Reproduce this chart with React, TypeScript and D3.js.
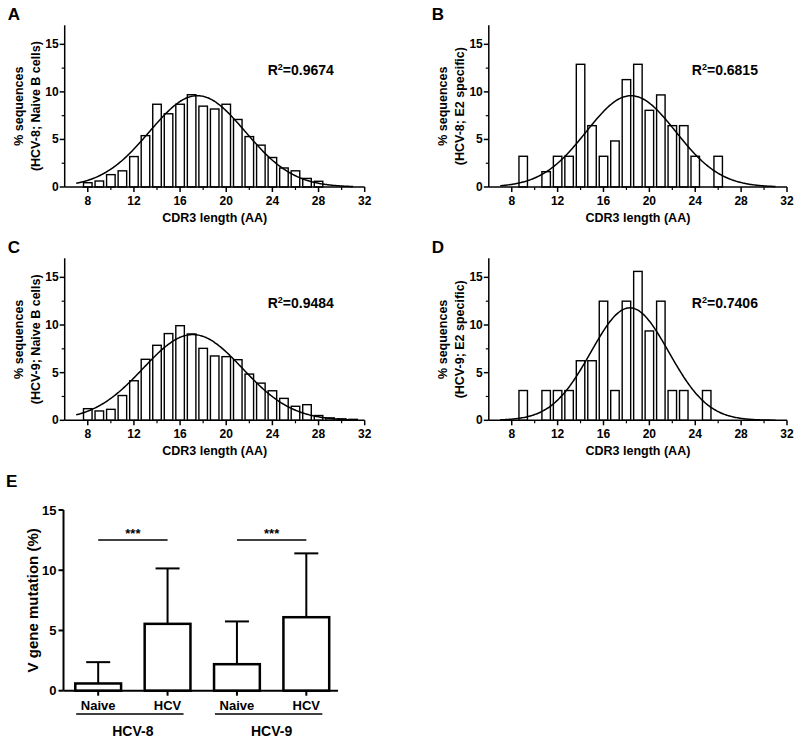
import React from "react";
import * as d3 from "d3";

// ---------- Data ----------
const lengthsA = [8, 9, 10, 11, 12, 13, 14, 15, 16, 17, 18, 19, 20, 21, 22, 23, 24, 25, 26, 27, 28];
const valuesA = [0.45, 0.63, 1.3, 1.7, 3.2, 5.4, 8.7, 7.7, 8.7, 9.7, 8.5, 8.2, 8.7, 7.1, 5.3, 4.4, 3.1, 2.0, 1.7, 0.9, 0.6];

const lengthsB = [9, 11, 12, 13, 14, 15, 16, 17, 18, 19, 20, 21, 22, 23, 24, 26];
const valuesB = [3.23, 1.61, 3.23, 3.23, 12.9, 6.45, 3.23, 4.84, 11.29, 12.9, 8.06, 9.68, 6.45, 6.45, 3.23, 3.23];

const lengthsC = [8, 9, 10, 11, 12, 13, 14, 15, 16, 17, 18, 19, 20, 21, 22, 23, 24, 25, 26, 27, 28, 29, 30, 31];
const valuesC = [1.22, 0.98, 1.15, 2.6, 4.15, 6.4, 7.87, 9.1, 9.93, 9.06, 7.55, 6.75, 6.68, 6.36, 4.85, 3.9, 3.1, 2.3, 1.47, 1.64, 0.5, 0.25, 0.15, 0.1];

const lengthsD = [9, 11, 12, 13, 14, 15, 16, 17, 18, 19, 20, 21, 22, 23, 25];
const valuesD = [3.125, 3.125, 3.125, 3.125, 6.25, 6.25, 12.5, 3.125, 12.5, 15.625, 9.375, 12.5, 3.125, 3.125, 3.125];

// Gaussian fit parameters per panel (A, B, C, D)
const fitPeak = [9.6, 9.6, 9.0, 11.8];
const fitMean = [17.5, 18.4, 17.1, 18.3];
const fitSd = [4.15, 3.9, 4.3, 3.4];
const fitRange = [7, 31];
const r2Labels = ["0.9674", "0.6815", "0.9484", "0.7406"];
const panelLetters = ["A", "B", "C", "D"];
const yLabelLine2 = ["(HCV-8; Naive B cells)", "(HCV-8; E2 specific)", "(HCV-9; Naive B cells)", "(HCV-9; E2 specific)"];

const xTicksMajor = [8, 12, 16, 20, 24, 28, 32];
const xTicksMinor = [10, 14, 18, 22, 26, 30];
const yTicksMajor = [0, 5, 10, 15];
const yTicksMinor = [2.5, 7.5, 12.5];

// Panel E
const eCategories = ["HCV-8 Naive", "HCV-8 HCV", "HCV-9 Naive", "HCV-9 HCV"];
const eLabels = ["Naive", "HCV", "Naive", "HCV"];
const eMeans = [0.6, 5.55, 2.2, 6.1];
const eErrTop = [2.37, 10.15, 5.75, 11.4];
const eGroups = ["HCV-8", "HCV-9"];
const eSigLevel = [12.5, 12.5];
const eYTicks = [0, 5, 10, 15];

const FONT = "'Liberation Sans', Arial, Helvetica, sans-serif";

type HistProps = {
  idx: number;
  lengths: number[];
  values: number[];
  left: number;
  right: number;
  top: number;
  bottom: number;
};

function Histogram({ idx, lengths, values, left, right, top, bottom }: HistProps) {
  const x = d3.scaleLinear().domain([6, 32]).range([left, right]);
  const y = d3.scaleLinear().domain([0, 17]).range([bottom, top]);
  const bw = x(6.74) - x(6);
  const samples = d3.range(fitRange[0], fitRange[1] + 0.001, 0.1);
  const curve = d3
    .line<number>()
    .x((v) => x(v))
    .y((v) => y(fitPeak[idx] * Math.exp(-((v - fitMean[idx]) ** 2) / (2 * fitSd[idx] ** 2))))
    .curve(d3.curveBasis);
  const cy = (top + bottom) / 2;
  return (
    <g fontFamily={FONT} fontWeight="bold">
      <text x={left - 57} y={top - 5} fontSize={17}>{panelLetters[idx]}</text>
      {lengths.map((l, i) => (
        <rect key={i} x={x(l) - bw / 2} y={y(values[i])} width={bw} height={y(0) - y(values[i])}
          fill="white" stroke="black" strokeWidth={1.4} />
      ))}
      <path d={curve(samples) || ""} fill="none" stroke="black" strokeWidth={1.5} />
      {/* axes */}
      <line x1={left} x2={left} y1={top} y2={bottom} stroke="black" strokeWidth={1.5} />
      <line x1={left} x2={right} y1={bottom} y2={bottom} stroke="black" strokeWidth={1.5} />
      {yTicksMajor.map((t) => (
        <g key={t}>
          <line x1={left - 5} x2={left} y1={y(t)} y2={y(t)} stroke="black" strokeWidth={1.5} />
          <text x={left - 6} y={y(t) + 4} fontSize={12} textAnchor="end">{t}</text>
        </g>
      ))}
      {yTicksMinor.map((t) => (
        <line key={t} x1={left - 3} x2={left} y1={y(t)} y2={y(t)} stroke="black" strokeWidth={1.2} />
      ))}
      {xTicksMajor.map((t) => (
        <g key={t}>
          <line x1={x(t)} x2={x(t)} y1={bottom} y2={bottom + 5} stroke="black" strokeWidth={1.5} />
          <text x={x(t)} y={bottom + 18} fontSize={12} textAnchor="middle">{t}</text>
        </g>
      ))}
      {xTicksMinor.map((t) => (
        <line key={t} x1={x(t)} x2={x(t)} y1={bottom} y2={bottom + 3} stroke="black" strokeWidth={1.2} />
      ))}
      <text x={(left + right) / 2} y={bottom + 35} fontSize={12.5} textAnchor="middle">CDR3 length (AA)</text>
      <text transform={`translate(${left - 42},${cy}) rotate(-90)`} fontSize={12.5} textAnchor="middle">% sequences</text>
      <text transform={`translate(${left - 25},${cy}) rotate(-90)`} fontSize={12.5} textAnchor="middle">{yLabelLine2[idx]}</text>
      <text x={left + 203} y={top + 50} fontSize={14}>
        R<tspan dy={-5} fontSize={9}>2</tspan><tspan dy={5}>={r2Labels[idx]}</tspan>
      </text>
    </g>
  );
}

function PanelE() {
  const left = 63.5, right = 338, top = 510, bottom = 690.7;
  const x = d3.scaleBand<string>().domain(eCategories).range([left, right + 3]).paddingInner(0.34).paddingOuter(0.17);
  const y = d3.scaleLinear().domain([0, 15]).range([bottom, top]);
  const bw = x.bandwidth();
  const cx = (c: string) => (x(c) as number) + bw / 2;
  return (
    <g fontFamily={FONT} fontWeight="bold">
      <text x={6} y={487} fontSize={17}>E</text>
      {eCategories.map((c, i) => (
        <g key={c}>
          <line x1={cx(c)} x2={cx(c)} y1={y(eMeans[i])} y2={y(eErrTop[i])} stroke="black" strokeWidth={2} />
          <line x1={cx(c) - 12} x2={cx(c) + 12} y1={y(eErrTop[i])} y2={y(eErrTop[i])} stroke="black" strokeWidth={2} />
          <rect x={x(c)} y={y(eMeans[i])} width={bw} height={y(0) - y(eMeans[i])} fill="white" stroke="black" strokeWidth={2.5} />
          <line x1={cx(c)} x2={cx(c)} y1={bottom} y2={bottom + 5} stroke="black" strokeWidth={2} />
          <text x={cx(c)} y={bottom + 19} fontSize={13} textAnchor="middle">{eLabels[i]}</text>
        </g>
      ))}
      <line x1={left} x2={left} y1={top} y2={bottom} stroke="black" strokeWidth={2} />
      <line x1={left} x2={right} y1={bottom} y2={bottom} stroke="black" strokeWidth={2} />
      {eYTicks.map((t) => (
        <g key={t}>
          <line x1={left - 5} x2={left} y1={y(t)} y2={y(t)} stroke="black" strokeWidth={2} />
          <text x={left - 7} y={y(t) + 4.5} fontSize={13} textAnchor="end">{t}</text>
        </g>
      ))}
      {eGroups.map((g, gi) => {
        const a = cx(eCategories[gi * 2]);
        const b = cx(eCategories[gi * 2 + 1]);
        return (
          <g key={g}>
            <line x1={a} x2={b} y1={y(eSigLevel[gi])} y2={y(eSigLevel[gi])} stroke="black" strokeWidth={1.5} />
            <text x={(a + b) / 2} y={y(eSigLevel[gi]) - 2} fontSize={13} textAnchor="middle">***</text>
            <line x1={a - 22} x2={b + 16} y1={714} y2={714} stroke="black" strokeWidth={1.5} />
            <text x={(a + b) / 2} y={736} fontSize={14} textAnchor="middle">{g}</text>
          </g>
        );
      })}
      <text transform={`translate(38,${(top + bottom) / 2}) rotate(-90)`} fontSize={15} textAnchor="middle">V gene mutation (%)</text>
    </g>
  );
}

export default function App() {
  return (
    <svg width={800} height={743} style={{ position: "absolute", left: 0, top: 0, background: "white" }}>
      <rect width={800} height={743} fill="white" />
      <Histogram idx={0} lengths={lengthsA} values={valuesA} left={64.7} right={364.7} top={25.3} bottom={187} />
      <Histogram idx={1} lengths={lengthsB} values={valuesB} left={488.8} right={787} top={25.3} bottom={187} />
      <Histogram idx={2} lengths={lengthsC} values={valuesC} left={64.7} right={364.7} top={258.3} bottom={420.3} />
      <Histogram idx={3} lengths={lengthsD} values={valuesD} left={488.8} right={787} top={258.3} bottom={420.3} />
      <PanelE />
    </svg>
  );
}
